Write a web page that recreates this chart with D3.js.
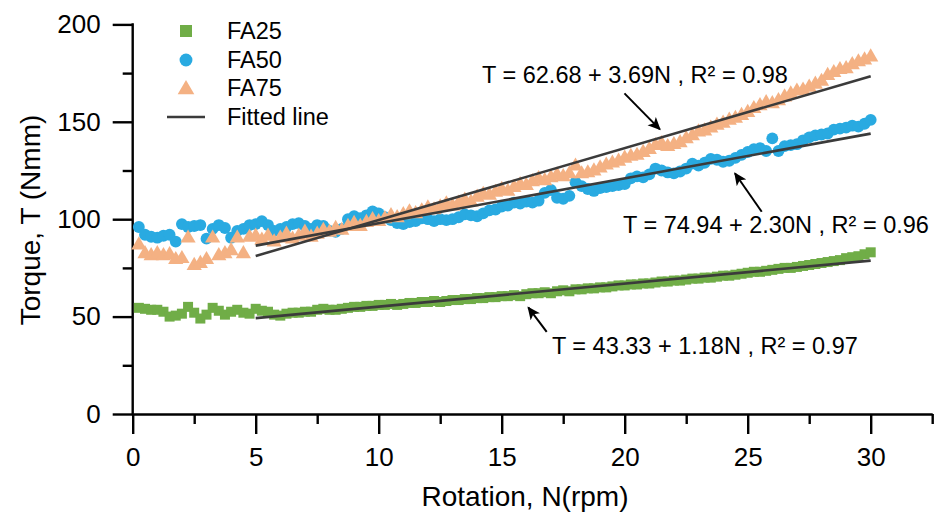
<!DOCTYPE html>
<html>
<head>
<meta charset="utf-8">
<script src="https://cdn.jsdelivr.net/npm/d3@7"></script>
<style>
html,body{margin:0;padding:0;background:#fff;}
svg{display:block;font-family:"Liberation Sans",Arial,sans-serif;}
</style>
</head>
<body>
<svg id="chart" width="936" height="518"></svg>
<script>
// ---------- data ----------
const rpm = [0.25,0.5,0.75,1,1.25,1.5,1.75,2,2.25,2.5,2.75,3,3.25,3.5,3.75,4,4.25,4.5,4.75,5,
 5.25,5.5,5.75,6,6.25,6.5,6.75,7,7.25,7.5,7.75,8,8.25,8.5,8.75,9,9.25,9.5,9.75,10,
 10.25,10.5,10.75,11,11.25,11.5,11.75,12,12.25,12.5,12.75,13,13.25,13.5,13.75,14,14.25,14.5,14.75,15,
 15.25,15.5,15.75,16,16.25,16.5,16.75,17,17.25,17.5,17.75,18,18.25,18.5,18.75,19,19.25,19.5,19.75,20,
 20.25,20.5,20.75,21,21.25,21.5,21.75,22,22.25,22.5,22.75,23,23.25,23.5,23.75,24,24.25,24.5,24.75,25,
 25.25,25.5,25.75,26,26.25,26.5,26.75,27,27.25,27.5,27.75,28,28.25,28.5,28.75,29,29.25,29.5,29.75,30];

const FA25 = [54.5,54,53.5,53.5,52.5,50,50.5,51.5,55,52,49,51,54.5,53,51,52.5,53.5,52,51.5,54,
 53,52.5,51,50.5,51.5,52,52,52.5,52.5,53.5,54,53.5,53.5,54,54.5,55,55,55.5,55.5,56,
 56,56.5,56,56.5,57,57,57.5,57.5,58,57.5,58,58.5,58.5,59,59,59.5,59.5,60,60,60.5,
 60.5,61,60.5,61.5,62,62,62.5,62,63,63.5,63,64,64,64.5,64.5,65,65,65.5,66,66,
 66.5,66.5,67,67,67.5,68,68,68.5,68.5,69,69.5,69.5,70,70,70.5,71,71,71.5,72,72.5,
 73,73,73.5,74,74.5,75,75,75.5,76,76.5,77,77.5,78,78.5,79,80,80.5,81,82,83];

const FA50 = [96,92,91,90.5,91.5,92,88.5,97.5,96,96.5,97,90,95,97,95.5,90.5,94,95,97,97.5,
 99,97,94,95,96,97.5,98,96.5,95,97,96.5,94,93.5,95,100,101.5,100.5,102,104,103,
 101,99.5,98,97.5,98.5,99,100.5,100,99,100,99.5,100,101,102.5,102,101.5,103,104.5,105,106.5,
 107,108.5,108,109,108.5,109.5,113.5,115,111,110.5,112,119,117,115.5,114.5,116,116.5,117,117.5,118,
 121,122,121.5,123,126,125,124,123.5,124.5,126,128.5,127.5,129,131,130.5,129.5,130,131.5,133,134.5,
 136,136.5,135,141.5,135,137.5,138,138.5,140.5,142,143,143.5,144,146,146.5,147,148,147.5,149,151];

const FA75 = [87.5,83,82,83,82,82.5,80,80.5,91,77,78,80,91,82,83,84.5,91,83,91.5,92,
 90,92,89,91,93,90.5,92,94,91.5,93,95,94,96,95,97,98.5,97,99,100.5,99.5,
 101,102.5,101.5,103,104.5,103.5,105,106.5,105.5,107,108.5,107.5,109,110.5,109.5,112,113.5,113,114.5,116,
 115,117,118.5,118,120,121.5,120.5,122,123.5,122.5,124,128,124,124.5,125.5,127,128.5,129.5,130.5,132,
 133,133.5,135,136.5,138.5,139.5,138,139,140,142,143.5,145.5,146,147.5,149,150,151.5,152.5,154,155.5,
 157.5,159,160.5,160,161.5,163.5,165,166.5,167,168.5,170,171.5,174.5,176,177.5,178,180,181.5,182.5,184];

const seriesNames = ["FA25","FA50","FA75"];
const fitIntercept = [43.33, 74.94, 62.68];
const fitSlope = [1.18, 2.30, 3.69];
const fitRange = [5, 30];
const fitLabels = ["T = 43.33 + 1.18N , R\u00B2 = 0.97",
                   "T = 74.94 + 2.30N , R\u00B2 = 0.96",
                   "T = 62.68 + 3.69N , R\u00B2 = 0.98"];
const xMajorTicks = [0,5,10,15,20,25,30];
const xMinorTicks = [2.5,7.5,12.5,17.5,22.5,27.5,32.5];
const yMajorTicks = [0,50,100,150,200];
const yMinorTicks = [25,75,125,175];

// ---------- layout ----------
const svg = d3.select("#chart");
const colors = ["#70AD47","#29AAE1","#F4B183"];
const fitColor = "#3b3b3b";
const x = d3.scaleLinear().domain([0, 32.5]).range([132.7, 932.2]);
const y = d3.scaleLinear().domain([0, 200]).range([414, 24.4]);

// axes
const axW = 2.4;
function styleAxis(g){
  g.selectAll("path.domain").attr("stroke","#000").attr("stroke-width",axW);
  g.selectAll(".tick line").attr("stroke","#000").attr("stroke-width",axW);
  g.selectAll(".tick text").attr("fill","#000").style("font-family","'Liberation Sans',Arial,sans-serif");
}
const gxMinor = svg.append("g").attr("transform",`translate(0,${y(0)})`)
  .call(d3.axisBottom(x).tickValues(xMinorTicks).tickSize(10).tickSizeOuter(0).tickFormat(""));
styleAxis(gxMinor);
gxMinor.select("path.domain").remove();
const gx = svg.append("g").attr("transform",`translate(0,${y(0)})`)
  .call(d3.axisBottom(x).tickValues(xMajorTicks).tickSize(20).tickSizeOuter(0).tickPadding(14));
styleAxis(gx);
gx.selectAll(".tick text").style("font-size","26px");

const gyMinor = svg.append("g").attr("transform",`translate(${x(0)},0)`)
  .call(d3.axisLeft(y).tickValues(yMinorTicks).tickSize(10).tickSizeOuter(0).tickFormat(""));
styleAxis(gyMinor);
gyMinor.select("path.domain").remove();
const gy = svg.append("g").attr("transform",`translate(${x(0)},0)`)
  .call(d3.axisLeft(y).tickValues(yMajorTicks).tickSize(20).tickSizeOuter(0).tickPadding(12));
styleAxis(gy);
gy.selectAll(".tick text").style("font-size","26px");
gy.select("path.domain").attr("d",`M0,${y(0)+1.2}V${y(200)-1.2}`);

// axis titles
svg.append("text").attr("x",525).attr("y",506).attr("text-anchor","middle")
  .style("font-size","28px").text("Rotation, N(rpm)");
svg.append("text").attr("transform","translate(40,220) rotate(-90)").attr("text-anchor","middle")
  .style("font-size","28px").text("Torque, T (Nmm)");

// markers
const symbols = [d3.symbolSquare, d3.symbolCircle, d3.symbolTriangle];
const symSizes = [100, 110, 100];
const dataArr = [FA25, FA50, FA75];
dataArr.forEach((vals, i) => {
  const sym = d3.symbol().type(symbols[i]).size(symSizes[i]);
  svg.append("g").selectAll("path").data(rpm.map((n,k)=>[n, vals[k]])).join("path")
    .attr("transform", d => `translate(${x(d[0])},${y(d[1]) + (i===2?1.5:0)})`)
    .attr("d", sym).attr("fill", colors[i]);
});

// fitted lines
fitIntercept.forEach((a, i) => {
  const b = fitSlope[i];
  svg.append("line")
    .attr("x1", x(fitRange[0])).attr("y1", y(a + b*fitRange[0]))
    .attr("x2", x(fitRange[1])).attr("y2", y(a + b*fitRange[1]))
    .attr("stroke", fitColor).attr("stroke-width", 2.6);
});

// annotations (in data coordinates)
const defs = svg.append("defs");
defs.append("marker").attr("id","ah").attr("viewBox","0 0 10 10").attr("refX",9).attr("refY",5)
  .attr("markerWidth",6.5).attr("markerHeight",6.5).attr("markerUnits","strokeWidth").attr("orient","auto")
  .append("path").attr("d","M0,0.5L10,5L0,9.5L2.5,5Z").attr("fill","#000");
const ann = [
  {label: fitLabels[0], tx: 17.04, ty: 30.8, from: [16.83, 42.2], to: [16.08, 54.7]},
  {label: fitLabels[1], tx: 19.93, ty: 92.75, from: [25.57, 103.8], to: [24.48, 123.6]},
  {label: fitLabels[2], tx: 14.2, ty: 170.0, from: [19.99, 164.6], to: [21.43, 146.1]}
];
ann.forEach(a => {
  svg.append("line").attr("x1", x(a.from[0])).attr("y1", y(a.from[1]))
    .attr("x2", x(a.to[0])).attr("y2", y(a.to[1]))
    .attr("stroke","#000").attr("stroke-width",2).attr("marker-end","url(#ah)");
  svg.append("text").attr("x", x(a.tx)).attr("y", y(a.ty))
    .style("font-size","23.5px").attr("fill","#000").text(a.label);
});

// legend
const legY = [31, 60, 88, 117];
const legX = 186;
seriesNames.forEach((name, i) => {
  svg.append("path").attr("transform",`translate(${legX},${legY[i] + (i===2?1.5:0)})`)
    .attr("d", d3.symbol().type(symbols[i]).size([144,130,120][i])).attr("fill", colors[i]);
  svg.append("text").attr("x", 227).attr("y", legY[i]).attr("dy","0.35em")
    .style("font-size","23.5px").text(name);
});
svg.append("line").attr("x1",167).attr("x2",205).attr("y1",legY[3]).attr("y2",legY[3])
  .attr("stroke",fitColor).attr("stroke-width",2.6);
svg.append("text").attr("x", 227).attr("y", legY[3]).attr("dy","0.35em")
  .style("font-size","23.5px").text("Fitted line");
</script>
</body>
</html>
